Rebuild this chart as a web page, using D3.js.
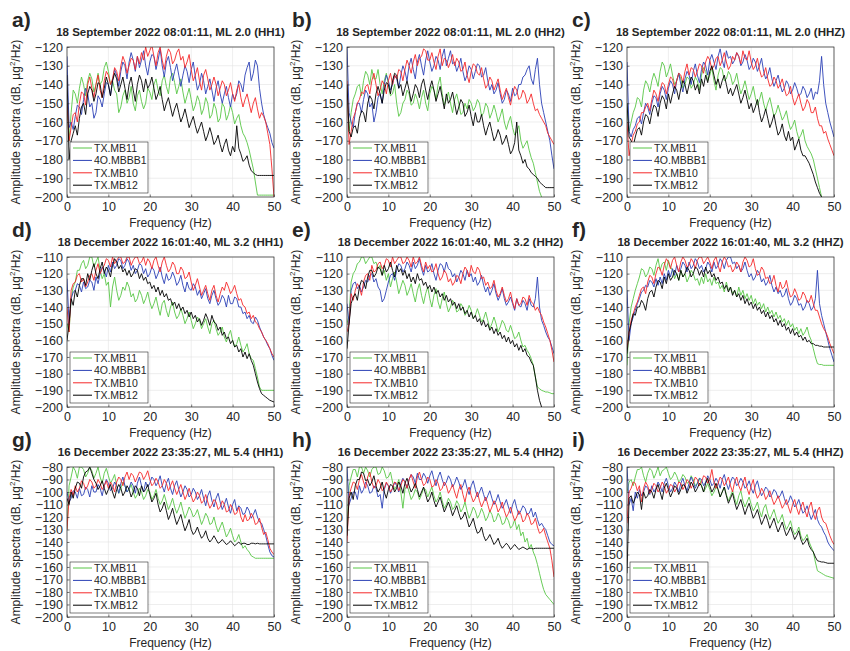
<!DOCTYPE html>
<html>
<head>
<meta charset="utf-8">
<script src="https://cdn.jsdelivr.net/npm/d3@7"></script>
<style>
  body { margin: 0; background: #fff; }
  svg { display: block; }
  text { font-family: "Liberation Sans", Arial, sans-serif; fill: #262626; }
</style>
</head>
<body>
<div id="my_dataviz"></div>
<script>
// frequency samples (Hz), shared by every series
var freq = [0,0.5, 1,1.5,2,2.5,3,3.5,4,4.5,5,5.5, 6,6.5,7,7.5,8,8.5,9,9.5,10,10.5, 11,11.5,12,12.5,13,13.5,14,14.5,15,15.5,
  16,16.5,17,17.5,18,18.5,19,19.5,20,20.5, 21,21.5,22,22.5,23,23.5,24,24.5,25,25.5, 26,26.5,27,27.5,28,28.5,29,29.5,30,30.5,
  31,31.5,32,32.5,33,33.5,34,34.5,35,35.5, 36,36.5,37,37.5,38,38.5,39,39.5,40,40.5, 41,41.5,42,42.5,43,43.5,44,44.5,45,45.5,
  46,46.5,47,47.5,48,48.5,49,49.5,50];

var stations = ["TX.MB11", "4O.MBBB1", "TX.MB10", "TX.MB12"];
var panelLetters = ["a)", "b)", "c)", "d)", "e)", "f)", "g)", "h)", "i)"];
var panelTitles = [
  "18 September 2022 08:01:11, ML 2.0 (HH1)",
  "18 September 2022 08:01:11, ML 2.0 (HH2)",
  "18 September 2022 08:01:11, ML 2.0 (HHZ)",
  "18 December 2022 16:01:40, ML 3.2 (HH1)",
  "18 December 2022 16:01:40, ML 3.2 (HH2)",
  "18 December 2022 16:01:40, ML 3.2 (HHZ)",
  "16 December 2022 23:35:27, ML 5.4 (HH1)",
  "16 December 2022 23:35:27, ML 5.4 (HH2)",
  "16 December 2022 23:35:27, ML 5.4 (HHZ)"
];
var yTops = [-120, -120, -120, -110, -110, -110, -80, -80, -80];
var xTicks = [0, 10, 20, 30, 40, 50];

// amplitude spectra (dB), one value per freq sample
var a_MB11 = [-150,-170,
 -155,-143, -145,-150, -142,-136, -140,-146, -138,-134,
 -137,-144, -140,-134, -140,-138, -131,-128, -133,-140,
 -138,-143, -145,-155, -152,-146, -143,-150, -147,-141,
 -150,-154, -146,-143, -149,-153, -150,-142, -144,-148,
 -140,-137, -143,-146, -138,-135, -141,-145, -136,-134,
 -139,-145, -141,-137, -144,-150, -146,-142, -148,-154,
 -151,-146, -149,-156, -153,-147, -150,-158, -156,-150,
 -153,-160, -158,-150, -152,-159, -156,-151, -155,-161,
 -158,-156, -162,-166, -168,-171, -175,-180, -185,-192,
 -199,-199, -199,-199, -199,-199, -199,-199, -199];
var a_MBBB1 = [-125,-163,
 -160,-164, -157,-151, -152,-156, -148,-142, -145,-152,
 -150,-158, -155,-146, -148,-152, -145,-139, -140,-146,
 -138,-132, -135,-141, -133,-128, -130,-137, -128,-123,
 -127,-133, -125,-131, -127,-122, -130,-135, -128,-124,
 -125,-132, -127,-121, -130,-136, -128,-125, -131,-138,
 -133,-129, -135,-141, -135,-130, -133,-139, -132,-128,
 -136,-143, -140,-134, -138,-145, -141,-137, -143,-149,
 -142,-138, -145,-150, -145,-141, -147,-152, -145,-148,
 -145,-138, -140,-144, -135,-131, -128,-138, -134,-127,
 -130,-142, -150,-156, -160,-163, -166,-171, -174];
var a_MB10 = [-150,-170,
 -163,-156, -155,-160, -150,-144, -145,-151, -140,-136,
 -142,-147, -140,-135, -143,-147, -138,-133, -135,-140,
 -137,-131, -133,-138, -130,-125, -128,-134, -130,-126,
 -127,-132, -125,-129, -123,-127, -120,-125, -122,-119,
 -125,-130, -123,-120, -127,-132, -125,-121, -123,-129,
 -127,-123, -121,-127, -125,-131, -128,-124, -132,-138,
 -135,-131, -138,-143, -135,-132, -137,-143, -140,-136,
 -140,-146, -142,-138, -140,-146, -143,-139, -145,-149,
 -143,-140, -147,-152, -148,-145, -150,-155, -150,-147,
 -153,-158, -155,-157, -160,-166, -172,-185, -200];
var a_MB12 = [-135,-180,
 -170,-166, -162,-167, -158,-152, -150,-156, -145,-141,
 -143,-149, -145,-139, -140,-147, -142,-136, -140,-146,
 -138,-134, -137,-144, -140,-136, -142,-148, -140,-136,
 -143,-149, -140,-135, -138,-144, -137,-142, -140,-136,
 -142,-148, -145,-141, -148,-154, -150,-147, -152,-157,
 -153,-150, -155,-160, -157,-153, -158,-163, -160,-157,
 -162,-166, -163,-160, -165,-170, -167,-163, -167,-172,
 -170,-167, -172,-176, -172,-169, -175,-178, -173,-176,
 -162,-174, -177,-181, -180,-178, -183,-186, -187,-188,
 -188.5,-188.5, -188.5,-188.5, -188.5,-188.5, -188.5,-188.5, -188.5];

var b_MB11 = [-140,-165,
 -155,-148, -145,-141, -140,-146, -138,-133, -135,-140,
 -132,-137, -137,-132, -140,-145, -138,-134, -140,-146,
 -145,-140, -150,-157, -155,-150, -148,-143, -145,-151,
 -150,-145, -148,-153, -147,-143, -150,-154, -145,-141,
 -143,-148, -140,-136, -145,-151, -148,-144, -150,-155,
 -148,-145, -150,-156, -155,-150, -153,-148, -150,-154,
 -152,-148, -150,-157, -155,-150, -152,-158, -155,-151,
 -155,-160, -157,-153, -160,-164, -160,-157, -163,-167,
 -165,-162, -170,-174, -172,-170, -175,-179, -182,-187,
 -192,-197, -200,null, null,null, null,null, null];
var b_MBBB1 = [-120,-155,
 -160,-163, -155,-150, -150,-155, -148,-143, -145,-152,
 -150,-160, -155,-147, -145,-150, -140,-135, -138,-143,
 -140,-135, -137,-142, -135,-130, -133,-138, -130,-126,
 -132,-137, -128,-124, -130,-135, -127,-122, -128,-133,
 -130,-125, -127,-132, -125,-121, -130,-126, -122,-129,
 -128,-133, -130,-126, -133,-138, -135,-130, -132,-137,
 -133,-129, -130,-136, -135,-131, -138,-143, -140,-145,
 -143,-139, -145,-150, -148,-143, -145,-149, -142,-146,
 -145,-140, -140,-136, -135,-132, -130,-137, -140,-132,
 -126,-140, -150,-155, -160,-165, -170,-178, -185];
var b_MB10 = [-138,-172,
 -165,-158, -155,-150, -148,-144, -145,-141, -140,-145,
 -138,-134, -140,-146, -143,-138, -140,-145, -138,-134,
 -140,-135, -137,-132, -133,-138, -132,-127, -130,-134,
 -128,-124, -130,-126, -125,-121, -122,-127, -127,-123,
 -128,-132, -125,-121, -130,-126, -127,-131, -128,-124,
 -130,-126, -128,-133, -132,-128, -135,-139, -133,-129,
 -130,-134, -135,-131, -137,-142, -140,-136, -138,-143,
 -140,-137, -143,-148, -145,-142, -147,-151, -145,-141,
 -143,-148, -147,-143, -145,-150, -148,-145, -150,-154,
 -153,-156, -158,-160, -162,-166, -168,-170, -172];
var b_MB12 = [-140,-165,
 -168,-163, -162,-166, -158,-154, -155,-160, -150,-146,
 -148,-153, -145,-141, -145,-150, -143,-139, -140,-145,
 -138,-134, -135,-142, -140,-146, -142,-138, -143,-149,
 -145,-140, -142,-147, -140,-137, -143,-148, -142,-138,
 -143,-149, -145,-141, -147,-153, -145,-150, -148,-144,
 -150,-156, -152,-148, -150,-157, -155,-151, -157,-162,
 -155,-160, -160,-156, -162,-167, -163,-160, -165,-170,
 -168,-164, -167,-172, -170,-167, -172,-177, -175,-171,
 -160,-175, -178,-182, -180,-184, -185,-187, -188,-189,
 -190,-192, -193,-194, -195,-195, -195,-195, -195];

var c_MB11 = [-150,-165,
 -160,-155, -152,-147, -148,-152, -143,-138, -140,-144,
 -138,-134, -137,-141, -133,-128, -130,-136, -133,-129,
 -135,-140, -138,-134, -137,-142, -140,-136, -137,-142,
 -140,-136, -138,-143, -135,-131, -133,-138, -135,-131,
 -138,-143, -135,-131, -132,-138, -137,-133, -135,-140,
 -138,-134, -140,-145, -142,-138, -143,-148, -145,-141,
 -147,-151, -148,-144, -150,-154, -150,-147, -152,-157,
 -155,-151, -155,-159, -157,-154, -160,-164, -162,-159,
 -165,-169, -167,-164, -170,-173, -175,-177, -180,-185,
 -190,-195, -200,null, null,null, null,null, null];
var c_MBBB1 = [-128,-165,
 -168,-164, -162,-158, -157,-161, -155,-150, -152,-156,
 -150,-146, -147,-152, -145,-141, -143,-148, -142,-138,
 -140,-145, -138,-134, -140,-144, -137,-133, -135,-140,
 -133,-129, -135,-139, -132,-128, -130,-135, -127,-124,
 -128,-132, -125,-121, -127,-131, -122,-126, -125,-129,
 -127,-123, -125,-130, -128,-124, -127,-132, -130,-126,
 -128,-133, -130,-126, -133,-137, -135,-131, -137,-141,
 -138,-135, -140,-144, -142,-138, -140,-145, -143,-139,
 -142,-146, -145,-141, -143,-147, -145,-142, -148,-144,
 -145,-138, -125,-140, -150,-155, -160,-164, -168];
var c_MB10 = [-160,-178,
 -172,-167, -165,-161, -160,-155, -155,-152, -150,-154,
 -148,-143, -145,-149, -143,-139, -140,-145, -140,-136,
 -137,-142, -138,-134, -135,-139, -133,-129, -135,-131,
 -132,-136, -133,-129, -130,-134, -128,-125, -127,-132,
 -130,-126, -125,-130, -127,-123, -128,-132, -130,-125,
 -127,-123, -125,-129, -122,-126, -127,-122, -128,-132,
 -130,-126, -132,-136, -135,-131, -137,-141, -140,-136,
 -138,-142, -140,-137, -142,-146, -145,-141, -147,-151,
 -148,-145, -150,-154, -152,-148, -150,-155, -155,-152,
 -158,-162, -162,-166, -165,-169, -172,-175, -178];
var c_MB12 = [-150,-168,
 -170,-173, -168,-164, -163,-167, -160,-156, -157,-161,
 -155,-151, -152,-157, -150,-146, -148,-153, -145,-150,
 -145,-141, -143,-148, -142,-138, -140,-145, -140,-136,
 -138,-143, -140,-145, -137,-141, -135,-139, -133,-130,
 -135,-140, -137,-142, -138,-135, -140,-145, -142,-146,
 -143,-140, -145,-150, -147,-143, -148,-153, -150,-155,
 -152,-148, -155,-160, -157,-153, -158,-163, -160,-156,
 -162,-167, -165,-161, -167,-170, -165,-170, -168,-175,
 -172,-169, -175,-178, -178,-180, -182,-185, -188,-192,
 -195,-198, -200,null, null,null, null,null, null];

var d_MB11 = [-150,-155,
 -135,-128, -125,-118, -118,-114, -112,-117, -115,-110,
 -110,-116, -113,-110, -118,-123, -120,-127, -125,-140,
 -128,-122, -130,-136, -133,-128, -130,-125, -128,-134,
 -132,-137, -135,-130, -133,-138, -135,-131, -137,-141,
 -138,-134, -140,-145, -138,-136, -142,-146, -140,-137,
 -143,-147, -145,-141, -145,-150, -147,-143, -148,-153,
 -150,-146, -148,-153, -150,-147, -152,-156, -150,-148,
 -153,-157, -155,-152, -158,-161, -157,-154, -160,-164,
 -162,-158, -163,-167, -165,-162, -168,-171, -172,-177,
 -182,-188, -190,-190, -190,-190, -190,-190, -190];
var d_MBBB1 = [-123,-150,
 -135,-131, -130,-126, -127,-131, -125,-129, -128,-124,
 -125,-130, -122,-126, -120,-116, -118,-122, -115,-119,
 -113,-117, -115,-111, -112,-117, -115,-111, -113,-118,
 -115,-120, -118,-114, -115,-120, -117,-122, -120,-116,
 -118,-123, -120,-116, -122,-126, -120,-124, -123,-119,
 -122,-127, -125,-121, -127,-131, -125,-129, -130,-126,
 -128,-133, -130,-135, -132,-129, -135,-138, -133,-130,
 -135,-139, -137,-133, -135,-140, -133,-138, -138,-134,
 -135,-140, -140,-144, -143,-147, -145,-149, -150,-146,
 -148,-152, -155,-158, -160,-163, -165,-169, -172];
var d_MB10 = [-140,-155,
 -130,-126, -125,-121, -120,-125, -123,-128, -125,-121,
 -120,-124, -118,-114, -120,-117, -115,-111, -112,-116,
 -110,-114, -112,-110, -110,-114, -113,-110, -110,-115,
 -112,-110, -110,-114, -113,-110, -115,-111, -113,-117,
 -112,-110, -115,-119, -113,-110, -115,-119, -117,-113,
 -115,-120, -120,-116, -118,-123, -122,-119, -125,-130,
 -127,-123, -128,-133, -130,-127, -132,-136, -130,-127,
 -133,-137, -132,-128, -130,-125, -128,-132, -130,-127,
 -132,-136, -135,-139, -140,-144, -143,-147, -145,-149,
 -150,-153, -155,-158, -160,-162, -165,-168, -170];
var d_MB12 = [-160,-150,
 -135,-139, -130,-134, -127,-123, -123,-127, -120,-124,
 -118,-114, -120,-123, -117,-113, -120,-116, -118,-122,
 -115,-111, -113,-117, -115,-119, -117,-121, -118,-122,
 -120,-117, -118,-123, -120,-124, -122,-126, -125,-129,
 -127,-131, -128,-133, -130,-134, -132,-136, -135,-139,
 -137,-141, -138,-142, -140,-144, -142,-146, -143,-147,
 -145,-149, -147,-151, -148,-144, -147,-151, -145,-149,
 -150,-154, -152,-157, -155,-159, -158,-162, -160,-164,
 -163,-167, -165,-170, -167,-171, -168,-172, -175,-180,
 -185,-189, -192,-193, -194,-195, -196,-196.5, -197];

var e_MB11 = [-150,-145,
 -125,-120, -118,-114, -113,-110, -110,-114, -112,-110,
 -110,-114, -113,-117, -115,-121, -118,-124, -120,-128,
 -123,-119, -125,-132, -128,-124, -127,-133, -130,-126,
 -132,-137, -130,-126, -133,-138, -132,-128, -135,-140,
 -133,-129, -137,-141, -135,-131, -138,-143, -140,-136,
 -138,-143, -142,-138, -140,-145, -143,-139, -142,-147,
 -145,-141, -145,-149, -147,-143, -148,-153, -150,-146,
 -150,-155, -152,-148, -150,-154, -155,-151, -155,-159,
 -158,-155, -160,-164, -163,-166, -168,-171, -175,-182,
 -188,-189, -190,-190.5, -191,-191, -191.5,-192, -192];
var e_MBBB1 = [-138,-150,
 -130,-126, -125,-129, -127,-131, -128,-124, -125,-121,
 -120,-125, -123,-128, -130,-137, -135,-130, -125,-121,
 -120,-124, -118,-114, -115,-119, -117,-113, -115,-119,
 -113,-117, -115,-111, -117,-121, -115,-119, -118,-114,
 -120,-124, -118,-114, -115,-119, -113,-117, -118,-122,
 -120,-125, -122,-118, -120,-124, -118,-122, -120,-125,
 -122,-127, -125,-121, -127,-131, -128,-133, -130,-126,
 -132,-136, -133,-129, -135,-139, -137,-134, -138,-142,
 -135,-139, -140,-136, -138,-142, -135,-139, -140,-135,
 -122,-140, -148,-151, -155,-158, -160,-164, -168];
var e_MB10 = [-155,-150,
 -132,-136, -130,-126, -128,-133, -125,-121, -120,-124,
 -115,-119, -118,-114, -113,-117, -115,-111, -112,-116,
 -110,-114, -112,-110, -110,-114, -113,-110, -112,-116,
 -110,-114, -113,-110, -115,-119, -113,-117, -115,-119,
 -118,-114, -120,-124, -122,-118, -120,-125, -123,-127,
 -125,-121, -122,-126, -120,-116, -118,-122, -115,-119,
 -120,-116, -118,-123, -122,-127, -125,-129, -128,-124,
 -130,-134, -132,-128, -133,-137, -135,-131, -137,-141,
 -135,-139, -138,-134, -135,-139, -133,-137, -138,-142,
 -140,-143, -145,-149, -152,-156, -160,-166, -173];
var e_MB12 = [-165,-150,
 -138,-134, -132,-136, -128,-124, -125,-129, -122,-118,
 -118,-122, -120,-116, -117,-121, -115,-119, -117,-113,
 -118,-122, -115,-119, -117,-121, -118,-123, -120,-125,
 -122,-126, -120,-124, -123,-127, -125,-129, -127,-131,
 -128,-132, -130,-134, -132,-136, -133,-137, -135,-139,
 -137,-141, -138,-142, -140,-144, -142,-146, -143,-147,
 -145,-149, -147,-151, -148,-152, -150,-154, -152,-156,
 -153,-157, -155,-159, -157,-161, -158,-162, -160,-164,
 -162,-166, -163,-167, -165,-169, -170,-173, -175,-182,
 -190,-196, -200,null, null,null, null,null, null];

var f_MB11 = [-175,-150,
 -140,-135, -130,-126, -122,-117, -118,-122, -120,-116,
 -117,-121, -115,-111, -118,-114, -113,-118, -112,-116,
 -118,-123, -120,-124, -118,-122, -120,-125, -122,-118,
 -120,-124, -123,-127, -122,-126, -120,-125, -123,-127,
 -122,-126, -125,-129, -127,-131, -125,-130, -128,-132,
 -130,-134, -128,-133, -130,-135, -132,-136, -133,-138,
 -135,-139, -137,-141, -138,-143, -140,-144, -142,-146,
 -143,-147, -145,-149, -147,-151, -148,-152, -150,-154,
 -152,-156, -153,-157, -155,-152, -157,-160, -165,-170,
 -174,-174.5, -174.5,-175, -175,-175, -175,-175, -175];
var f_MBBB1 = [-130,-160,
 -150,-146, -142,-138, -135,-131, -130,-127, -128,-124,
 -125,-128, -123,-127, -122,-126, -120,-124, -118,-122,
 -117,-121, -115,-119, -117,-113, -115,-119, -113,-117,
 -115,-111, -113,-117, -115,-119, -117,-113, -115,-119,
 -113,-117, -115,-111, -113,-117, -112,-110, -110,-114,
 -113,-117, -115,-119, -117,-113, -118,-122, -120,-124,
 -122,-118, -120,-125, -123,-127, -125,-121, -127,-131,
 -128,-132, -130,-134, -133,-129, -135,-139, -137,-133,
 -135,-139, -138,-142, -140,-136, -138,-142, -140,-135,
 -118,-138, -145,-150, -155,-160, -165,-169, -173];
var f_MB10 = [-165,-155,
 -148,-144, -140,-137, -133,-129, -128,-132, -125,-121,
 -122,-126, -120,-116, -117,-121, -115,-111, -113,-117,
 -112,-110, -115,-119, -113,-110, -112,-116, -115,-111,
 -113,-117, -112,-110, -110,-114, -112,-110, -113,-117,
 -112,-110, -115,-119, -113,-110, -112,-116, -115,-119,
 -117,-113, -115,-119, -113,-110, -112,-116, -115,-111,
 -117,-121, -120,-116, -118,-123, -122,-126, -125,-121,
 -127,-131, -125,-129, -128,-124, -130,-134, -133,-129,
 -132,-136, -135,-131, -133,-137, -137,-133, -138,-142,
 -142,-146, -150,-153, -155,-158, -162,-165, -168];
var f_MB12 = [-168,-155,
 -150,-144, -145,-140, -140,-136, -138,-142, -135,-131,
 -130,-134, -128,-124, -125,-129, -122,-126, -120,-124,
 -122,-118, -120,-124, -118,-122, -120,-116, -118,-122,
 -120,-116, -117,-121, -118,-122, -116,-120, -118,-122,
 -120,-124, -122,-126, -125,-129, -127,-131, -128,-133,
 -130,-134, -132,-136, -133,-138, -135,-139, -137,-141,
 -138,-142, -140,-144, -142,-146, -143,-147, -145,-149,
 -147,-151, -148,-152, -150,-154, -152,-156, -153,-157,
 -155,-158, -157,-160, -158,-161, -160,-162, -162,-163,
 -163,-163.5, -163.5,-164, -164,-164, -164,-164, -164];

var g_MB11 = [-130,-95,
 -88,-80, -83,-89, -80,-80, -82,-88, -85,-80,
 -83,-89, -85,-80, -88,-93, -85,-81, -87,-93,
 -90,-86, -95,-101, -97,-92, -95,-100, -98,-94,
 -100,-105, -102,-97, -100,-106, -103,-98, -100,-106,
 -103,-98, -105,-110, -107,-102, -108,-114, -110,-105,
 -112,-117, -113,-108, -115,-121, -117,-112, -115,-120,
 -118,-114, -120,-126, -122,-117, -120,-126, -125,-120,
 -127,-132, -128,-124, -130,-136, -133,-129, -135,-140,
 -138,-134, -140,-145, -143,-146, -148,-151, -152,-153,
 -153,-153, -153,-153, -153,-153, -153,-153, -153];
var g_MBBB1 = [-100,-108,
 -105,-99, -100,-105, -97,-103, -102,-96, -98,-104,
 -95,-100, -100,-94, -97,-103, -95,-90, -93,-99,
 -97,-92, -95,-101, -93,-88, -95,-100, -97,-92,
 -95,-101, -93,-88, -95,-100, -92,-96, -93,-88,
 -90,-95, -92,-87, -95,-100, -93,-89, -97,-102,
 -95,-91, -98,-104, -100,-95, -98,-104, -102,-97,
 -100,-106, -103,-98, -105,-111, -103,-99, -107,-112,
 -105,-101, -108,-114, -110,-105, -112,-117, -110,-106,
 -115,-111, -113,-118, -117,-112, -115,-121, -118,-114,
 -120,-124, -125,-130, -135,-142, -148,-151, -152];
var g_MB10 = [-130,-105,
 -98,-103, -95,-100, -97,-91, -93,-98, -95,-90,
 -92,-97, -95,-90, -93,-98, -95,-91, -97,-92,
 -95,-100, -92,-88, -90,-95, -88,-84, -90,-85,
 -87,-92, -88,-84, -85,-90, -87,-83, -90,-95,
 -93,-89, -92,-97, -95,-90, -93,-99, -95,-91,
 -97,-102, -98,-94, -100,-106, -102,-97, -103,-108,
 -105,-100, -103,-109, -107,-102, -108,-113, -110,-106,
 -108,-114, -112,-107, -110,-116, -115,-110, -113,-118,
 -117,-112, -120,-124, -118,-123, -122,-117, -120,-126,
 -125,-121, -128,-134, -132,-138, -145,-148, -150];
var g_MB12 = [-105,-110,
 -100,-105, -97,-92, -93,-97, -88,-84, -83,-80,
 -85,-90, -93,-98, -95,-91, -97,-102, -98,-94,
 -100,-105, -98,-94, -97,-103, -100,-95, -98,-104,
 -100,-95, -97,-103, -95,-100, -98,-94, -102,-108,
 -105,-101, -110,-116, -113,-108, -115,-122, -118,-113,
 -120,-126, -122,-118, -125,-131, -127,-122, -130,-134,
 -132,-128, -133,-137, -135,-131, -137,-140, -138,-135,
 -138,-141, -140,-138, -140,-142, -141,-139, -141,-143,
 -141.5,-140, -142,-141, -141,-142, -142,-141, -141,-141.5,
 -141,-141.5, -141.5,-141.5, -141.5,-141.5, -141.5,-141.5, -141.5];

var h_MB11 = [-130,-95,
 -88,-82, -82,-88, -80,-80, -85,-80, -83,-88,
 -82,-80, -80,-86, -85,-80, -83,-89, -88,-84,
 -92,-98, -95,-90, -100,-113, -98,-94, -100,-106,
 -103,-98, -100,-106, -102,-97, -98,-104, -100,-96,
 -103,-108, -105,-100, -107,-113, -110,-105, -108,-114,
 -112,-107, -110,-116, -113,-108, -115,-121, -117,-112,
 -115,-121, -118,-113, -117,-123, -120,-115, -118,-124,
 -122,-117, -120,-126, -125,-120, -123,-129, -127,-122,
 -130,-126, -135,-132, -140,-137, -145,-142, -148,-152,
 -158,-165, -172,-178, -182,-184, -186,-188, -190];
var h_MBBB1 = [-80,-110,
 -105,-100, -100,-106, -95,-101, -98,-92, -95,-101,
 -100,-95, -97,-104, -102,-113, -98,-93, -95,-101,
 -97,-92, -95,-100, -93,-89, -92,-97, -90,-86,
 -88,-93, -85,-90, -90,-85, -88,-93, -87,-83,
 -90,-95, -88,-84, -90,-95, -92,-87, -90,-96,
 -93,-88, -92,-98, -95,-90, -97,-102, -95,-91,
 -98,-104, -100,-96, -102,-107, -103,-99, -105,-110,
 -107,-102, -108,-113, -110,-106, -112,-117, -110,-106,
 -113,-118, -115,-111, -113,-118, -117,-113, -120,-116,
 -122,-127, -125,-128, -130,-135, -140,-142, -143];
var h_MB10 = [-140,-103,
 -97,-92, -93,-98, -90,-86, -92,-97, -88,-84,
 -92,-97, -95,-90, -93,-99, -97,-92, -95,-100,
 -97,-92, -93,-99, -95,-90, -92,-97, -90,-86,
 -92,-97, -88,-84, -90,-95, -93,-88, -90,-96,
 -95,-90, -93,-99, -97,-92, -95,-101, -98,-94,
 -100,-105, -98,-94, -102,-108, -100,-96, -103,-108,
 -105,-100, -107,-112, -108,-104, -110,-116, -112,-107,
 -110,-116, -113,-108, -115,-120, -117,-112, -118,-123,
 -120,-115, -118,-124, -122,-117, -120,-126, -125,-121,
 -128,-133, -132,-129, -135,-140, -145,-155, -168];
var h_MB12 = [-135,-105,
 -100,-106, -95,-90, -90,-84, -85,-91, -90,-95,
 -92,-87, -95,-100, -97,-92, -100,-105, -98,-94,
 -95,-100, -97,-92, -95,-101, -93,-89, -95,-100,
 -97,-93, -98,-104, -100,-96, -102,-108, -105,-100,
 -107,-112, -108,-104, -110,-116, -112,-108, -113,-119,
 -115,-111, -117,-122, -120,-116, -122,-128, -125,-121,
 -128,-133, -132,-128, -135,-139, -137,-134, -138,-142,
 -140,-137, -142,-145, -143,-141, -143,-146, -144,-142,
 -144,-146, -145,-144, -145,-146, -145,-145, -145.5,-145,
 -145,-145, -145,-145, -145,-145, -145,-145, -145];

var i_MB11 = [-100,-92,
 -90,-95, -88,-82, -82,-80, -87,-92, -85,-81,
 -83,-89, -85,-80, -87,-83, -82,-80, -85,-90,
 -88,-84, -87,-92, -90,-86, -88,-93, -92,-87,
 -90,-95, -93,-89, -95,-100, -97,-93, -98,-103,
 -100,-96, -98,-104, -100,-96, -102,-107, -103,-99,
 -105,-110, -103,-99, -107,-112, -108,-104, -110,-115,
 -112,-108, -115,-120, -113,-110, -117,-122, -118,-114,
 -120,-125, -122,-118, -125,-130, -127,-123, -130,-134,
 -132,-128, -135,-139, -137,-134, -140,-144, -148,-156,
 -163,-164, -165,-166, -167,-167.5, -168,-168.5, -169];
var i_MBBB1 = [-80,-110,
 -105,-115, -100,-105, -98,-103, -100,-95, -97,-102,
 -95,-100, -97,-92, -95,-100, -93,-89, -95,-100,
 -97,-92, -95,-100, -93,-89, -95,-99, -93,-88,
 -92,-97, -93,-89, -90,-95, -92,-87, -90,-95,
 -93,-89, -92,-97, -90,-86, -93,-98, -92,-88,
 -90,-95, -93,-89, -92,-97, -95,-91, -97,-101,
 -95,-91, -98,-103, -100,-96, -98,-104, -102,-98,
 -100,-105, -103,-99, -105,-110, -108,-103, -107,-112,
 -110,-106, -112,-117, -115,-111, -117,-122, -118,-114,
 -122,-126, -128,-132, -135,-140, -143,-145, -147];
var i_MB10 = [-125,-100,
 -97,-92, -93,-99, -95,-108, -97,-92, -95,-101,
 -98,-93, -95,-100, -97,-92, -95,-101, -98,-94,
 -95,-100, -97,-92, -93,-98, -95,-90, -92,-97,
 -93,-88, -90,-95, -92,-87, -88,-93, -90,-82,
 -92,-97, -93,-88, -90,-95, -92,-88, -95,-100,
 -92,-88, -95,-99, -93,-88, -97,-102, -95,-90,
 -100,-105, -102,-97, -100,-106, -103,-99, -105,-110,
 -107,-103, -108,-113, -110,-106, -112,-117, -110,-106,
 -113,-118, -112,-108, -115,-120, -112,-108, -117,-122,
 -115,-112, -120,-124, -125,-130, -135,-139, -142];
var i_MB12 = [-165,-105,
 -103,-109, -105,-100, -102,-114, -100,-105, -103,-98,
 -100,-105, -98,-94, -100,-106, -97,-93, -98,-104,
 -100,-95, -97,-102, -98,-94, -95,-101, -97,-92,
 -95,-100, -97,-93, -95,-100, -93,-89, -95,-100,
 -97,-93, -98,-104, -100,-96, -103,-109, -105,-101,
 -108,-114, -110,-106, -112,-118, -113,-109, -115,-121,
 -118,-114, -120,-126, -122,-118, -123,-129, -125,-121,
 -127,-132, -128,-124, -130,-135, -132,-128, -133,-138,
 -135,-131, -138,-142, -140,-137, -143,-146, -148,-152,
 -155,-155.5, -156,-156, -156.5,-157, -157,-157, -157];

var panelSeries = [
  [a_MB11, a_MBBB1, a_MB10, a_MB12],
  [b_MB11, b_MBBB1, b_MB10, b_MB12],
  [c_MB11, c_MBBB1, c_MB10, c_MB12],
  [d_MB11, d_MBBB1, d_MB10, d_MB12],
  [e_MB11, e_MBBB1, e_MB10, e_MB12],
  [f_MB11, f_MBBB1, f_MB10, f_MB12],
  [g_MB11, g_MBBB1, g_MB10, g_MB12],
  [h_MB11, h_MBBB1, h_MB10, h_MB12],
  [i_MB11, i_MBBB1, i_MB10, i_MB12]
];

var colors = ["#58c646", "#2a40b5", "#f5282a", "#000000"];

// layout
var plotW = 207, plotH = 150;
var colX = [67, 347, 627], rowY = [47, 257, 467];

var svg = d3.select("#my_dataviz")
  .append("svg")
    .attr("width", 850)
    .attr("height", 651);

svg.append("rect").attr("width", 850).attr("height", 651).attr("fill", "#fff");

panelTitles.forEach(function(title, i) {
  var left = colX[i % 3], top = rowY[Math.floor(i / 3)];
  var g = svg.append("g").attr("transform", "translate(" + left + "," + top + ")");

  var x = d3.scaleLinear().domain([0, 50]).range([0, plotW]);
  var y = d3.scaleLinear().domain([-200, yTops[i]]).range([plotH, 0]);
  var yTicks = d3.range(-200, yTops[i] + 1, 10);

  g.append("rect").attr("width", plotW).attr("height", plotH).attr("fill", "#fff");

  // grid
  g.append("g").selectAll("line").data(xTicks).enter().append("line")
    .attr("x1", function(d) { return x(d) }).attr("x2", function(d) { return x(d) })
    .attr("y1", 0).attr("y2", plotH)
    .attr("stroke", "#e3e3e3").attr("stroke-width", 0.6);
  g.append("g").selectAll("line").data(yTicks).enter().append("line")
    .attr("x1", 0).attr("x2", plotW)
    .attr("y1", function(d) { return y(d) }).attr("y2", function(d) { return y(d) })
    .attr("stroke", "#e3e3e3").attr("stroke-width", 0.6);

  // spectra
  g.append("defs").append("clipPath").attr("id", "clip" + i)
    .append("rect").attr("width", plotW).attr("height", plotH);
  var lines = g.append("g").attr("clip-path", "url(#clip" + i + ")");
  panelSeries[i].forEach(function(vals, k) {
    var pts = freq.map(function(f, j) { return [f, vals[j]] });
    lines.append("path")
      .datum(pts)
      .attr("fill", "none")
      .attr("stroke", colors[k])
      .attr("stroke-width", 0.9)
      .attr("stroke-linejoin", "round")
      .attr("d", d3.line()
        .defined(function(d) { return d[1] != null })
        .x(function(d) { return x(d[0]) })
        .y(function(d) { return y(d[1]) }));
  });

  // axes, ticks pointing inward
  var xAxis = g.append("g").attr("transform", "translate(0," + plotH + ")")
    .call(d3.axisBottom(x).tickValues(xTicks).tickSize(-2.5).tickPadding(5).tickFormat(d3.format("d")));
  var yAxis = g.append("g")
    .call(d3.axisLeft(y).tickValues(yTicks).tickSize(-2.5).tickPadding(4));
  [xAxis, yAxis].forEach(function(ax) {
    ax.select(".domain").remove();
    ax.selectAll("line").attr("stroke", "#262626").attr("stroke-width", 0.6);
    ax.selectAll("text").attr("font-size", 12.5).attr("fill", "#262626")
      .attr("font-family", "'Liberation Sans', Arial, sans-serif");
  });

  g.append("rect").attr("width", plotW).attr("height", plotH)
    .attr("fill", "none").attr("stroke", "#262626").attr("stroke-width", 0.7);

  // legend
  var lg = g.append("g").attr("transform", "translate(3," + (plotH - 55) + ")");
  lg.append("rect").attr("width", 78).attr("height", 51)
    .attr("fill", "#fff").attr("stroke", "#262626").attr("stroke-width", 0.6);
  stations.forEach(function(s, k) {
    var ly = 6 + k * 12.4;
    lg.append("line").attr("x1", 3).attr("x2", 22).attr("y1", ly).attr("y2", ly)
      .attr("stroke", colors[k]).attr("stroke-width", 1);
    lg.append("text").attr("x", 24).attr("y", ly).attr("dy", "0.36em")
      .attr("font-size", 10.5).text(s);
  });

  // titles and labels
  g.append("text").attr("x", plotW / 2).attr("y", -11)
    .attr("text-anchor", "middle").attr("font-weight", "bold").attr("font-size", 11.5)
    .attr("fill", "#000").text(title);
  g.append("text").attr("x", -55).attr("y", -20)
    .attr("font-family", "'Liberation Serif', 'Times New Roman', serif")
    .attr("font-weight", "bold").attr("font-size", 21).attr("fill", "#000")
    .text(panelLetters[i]);
  g.append("text").attr("x", plotW / 2).attr("y", plotH + 30)
    .attr("text-anchor", "middle").attr("font-size", 12).text("Frequency (Hz)");
  var yl = g.append("text")
    .attr("transform", "translate(-47," + (plotH / 2) + ") rotate(-90)")
    .attr("text-anchor", "middle").attr("font-size", 12);
  yl.append("tspan").text("Amplitude spectra (dB, \u00b5g");
  yl.append("tspan").attr("font-size", 8).attr("dy", -5).text("2");
  yl.append("tspan").attr("dy", 5).text("/Hz)");
});
</script>
</body>
</html>
